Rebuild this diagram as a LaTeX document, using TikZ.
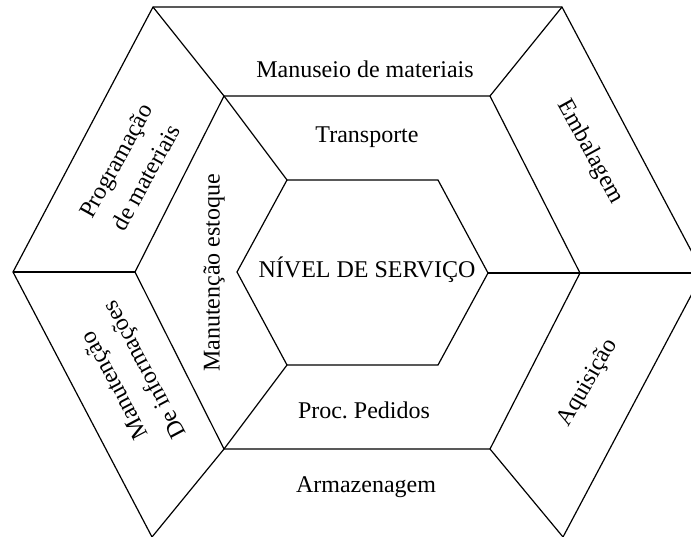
\documentclass[tikz,border=0pt]{standalone}
\usepackage{fontspec}
\setmainfont{Liberation Serif}

\begin{document}
\begin{tikzpicture}[x=0.5pt, y=-0.5pt, line width=0.6pt,
    lbl/.style={font=\fontsize{12}{17}\selectfont, align=center, inner sep=0pt}]
    \useasboundingbox (0,0) rectangle (691,536);
    \clip (0,0) rectangle (691,536);
    % Outer hexagon
    \coordinate (oTL) at (153,7);
    \coordinate (oTR) at (562,7);
    \coordinate (oR) at (703,273);
    \coordinate (oBR) at (563,537);
    \coordinate (oBL) at (152,537);
    \coordinate (oL) at (13,272);
    \draw [black] (oBL) -- (oL) -- (oTL) -- (oTR) -- (oR) -- (oBR);
    % Middle hexagon
    \coordinate (mTL) at (224,96);
    \coordinate (mTR) at (490,96);
    \coordinate (mR) at (580,273);
    \coordinate (mBR) at (490,449);
    \coordinate (mBL) at (224,449);
    \coordinate (mL) at (135,272);
    \draw [black] (mTL) -- (mTR) -- (mR) -- (mBR) -- (mBL) -- (mL) -- cycle;
    % Inner hexagon
    \coordinate (iTL) at (287,180);
    \coordinate (iTR) at (438,180);
    \coordinate (iR) at (488,273);
    \coordinate (iBR) at (438,365);
    \coordinate (iBL) at (287,365);
    \coordinate (iL) at (237,272);
    \draw [black] (iTL) -- (iTR) -- (iR) -- (iBR) -- (iBL) -- (iL) -- cycle;
    % Dividers
    \draw [black] (oTL) -- (mTL) -- (iTL);
    \draw [black] (oTR) -- (mTR);
    \draw [black] (iR) -- (mR) -- (oR);
    \draw [black] (mBR) -- (oBR);
    \draw [black] (iBL) -- (mBL) -- (oBL);
    \draw [black] (oL) -- (mL);
    % Centre
    \node [lbl, anchor=base] (servico) at (367,277) {NÍVEL DE SERVIÇO};
    % Middle ring
    \node [lbl, anchor=base] (transporte) at (367,142) {Transporte};
    \node [lbl, anchor=base] (pedidos) at (364,418) {Proc.\ Pedidos};
    \node [lbl, rotate=90] (estoque) at (214,273) {Manutenção estoque};
    % Outer ring
    \node [lbl, anchor=base] (manuseio) at (365,77) {Manuseio de materiais};
    \node [lbl, anchor=base] (armazenagem) at (366,492) {Armazenagem};
    \node [lbl, rotate=-61] (embalagem) at (590,152) {Embalagem};
    \node [lbl, rotate=60] (aquisicao) at (588,383) {Aquisição};
    \node [lbl, rotate=61] (programacao) at (131,169) {Programação\\de materiais};
    \node [lbl, rotate=118] (informacoes) at (131,377) {Manutenção\\De informações};
\end{tikzpicture}
\end{document}
